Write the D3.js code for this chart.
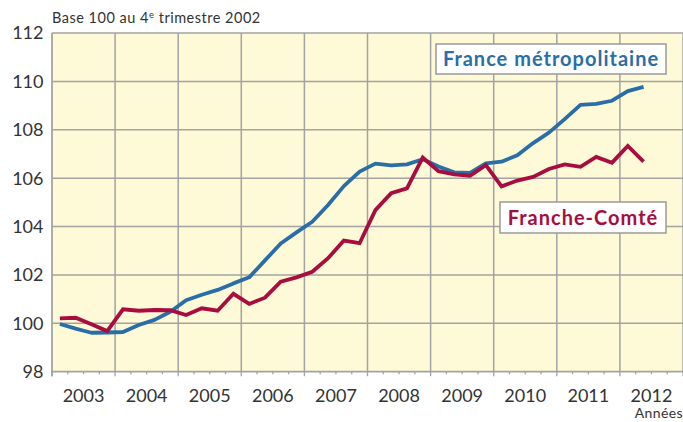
<!DOCTYPE html>
<html>
<head>
<meta charset="utf-8">
<script src="https://cdn.jsdelivr.net/npm/d3@7"></script>
<style>
  html, body { margin: 0; padding: 0; background: #fff; }
  svg { display: block; font-family: Lato, "Open Sans", sans-serif; }
</style>
</head>
<body>
<svg id="chart" width="683" height="422"></svg>
<script>
// --- DONNÉES (indice trimestriel, base 100 au 4e trimestre 2002) ---
const years = [2003, 2004, 2005, 2006, 2007, 2008, 2009, 2010, 2011, 2012];
const yTicks = [98, 100, 102, 104, 106, 108, 110, 112];

const franceMetro = [
  99.97, 99.78, 99.61, 99.62,
  99.64, 99.93, 100.14, 100.48,
  100.95, 101.18, 101.38, 101.65,
  101.9, 102.6, 103.3, 103.76,
  104.2, 104.89, 105.67, 106.27,
  106.6, 106.53, 106.57, 106.78,
  106.48, 106.24, 106.22, 106.61,
  106.68, 106.95, 107.45, 107.88,
  108.44, 109.03, 109.07, 109.2,
  109.6, 109.77
];
const francheComte = [
  100.2, 100.23, 99.96, 99.68,
  100.58, 100.52, 100.55, 100.54,
  100.34, 100.62, 100.52, 101.22,
  100.8, 101.06, 101.72, 101.9,
  102.13, 102.69, 103.42, 103.31,
  104.68, 105.38, 105.58, 106.85,
  106.29, 106.16, 106.1, 106.54,
  105.66, 105.9, 106.05, 106.38,
  106.57, 106.47, 106.88, 106.64,
  107.33, 106.68
];

const COL = {
  bg: "#fef9d6",
  grid: "#a3a3a3",
  blue: "#2a6ea8",
  red: "#a80d3f",
  text: "#333"
};

const svg = d3.select("#chart");
const mL = 52, mT = 33;
const plotR = mL + 631;   // fin 2012 (hors cadre)
const plotB = 371.7;

// --- ÉCHELLES ---
const x = d3.scaleLinear().domain([2003, 2013]).range([mL, plotR]);
const y = d3.scaleLinear().domain([98, 112]).range([plotB, mT]);
const qx = i => x(2003 + (i + 0.5) / 4);

// fond
svg.append("rect")
  .attr("x", mL).attr("y", mT)
  .attr("width", plotR - mL).attr("height", plotB - mT)
  .attr("fill", COL.bg);

// grille horizontale
svg.append("g").selectAll("line")
  .data(yTicks.slice(1))
  .join("line")
  .attr("x1", mL).attr("x2", plotR)
  .attr("y1", d => y(d)).attr("y2", d => y(d))
  .attr("stroke", COL.grid).attr("stroke-width", 1.5);

// grille verticale
svg.append("g").selectAll("line")
  .data(years.slice(1).concat([2013]))
  .join("line")
  .attr("x1", d => x(d)).attr("x2", d => x(d))
  .attr("y1", mT).attr("y2", plotB)
  .attr("stroke", COL.grid).attr("stroke-width", 1.5);

// axe des x : graduations trimestrielles
const quarters = d3.range(0, 41).map(i => 2003 + i / 4);
svg.append("g").selectAll("line")
  .data(quarters)
  .join("line")
  .attr("x1", d => x(d)).attr("x2", d => x(d))
  .attr("y1", plotB)
  .attr("y2", d => Number.isInteger(d) ? plotB + 4.5 : plotB + 2.5)
  .attr("stroke", COL.grid).attr("stroke-width", 1.3);

svg.append("line")
  .attr("x1", mL).attr("x2", plotR)
  .attr("y1", plotB).attr("y2", plotB)
  .attr("stroke", COL.grid).attr("stroke-width", 1.8);
svg.append("line")
  .attr("x1", mL).attr("x2", mL)
  .attr("y1", mT).attr("y2", plotB + 4.5)
  .attr("stroke", COL.grid).attr("stroke-width", 1.8);

// libellés des années
svg.append("g").selectAll("text")
  .data(years)
  .join("text")
  .attr("x", d => x(d + 0.5))
  .attr("y", 402)
  .attr("text-anchor", "middle")
  .style("font-size", "18px")
  .attr("fill", COL.text)
  .text(d => d);

// libellés de l'axe y
svg.append("g").selectAll("text")
  .data(yTicks)
  .join("text")
  .attr("x", 43.5)
  .attr("y", d => y(d))
  .attr("dy", "0.36em")
  .attr("text-anchor", "end")
  .style("font-size", "18px")
  .attr("fill", COL.text)
  .text(d => d);

// titre de l'axe
const hdr = svg.append("text")
  .attr("x", 52).attr("y", 23)
  .style("font-size", "14.5px")
  .style("letter-spacing", "0.5px")
  .attr("fill", COL.text);
hdr.append("tspan").text("Base 100 au 4");
hdr.append("tspan").attr("dy", -5).style("font-size", "9.5px").text("e");
hdr.append("tspan").attr("dy", 5).text(" trimestre 2002");

svg.append("text")
  .attr("x", 683).attr("y", 418)
  .attr("text-anchor", "end")
  .style("font-size", "14px")
  .style("letter-spacing", "0.4px")
  .attr("fill", COL.text)
  .text("Années");

// --- COURBES ---
const line = d3.line().x((d, i) => qx(i)).y(d => y(d));

svg.append("path")
  .datum(franceMetro)
  .attr("d", line)
  .attr("fill", "none")
  .attr("stroke", COL.blue).attr("stroke-width", 3.8)
  .attr("stroke-linejoin", "round");

svg.append("path")
  .datum(francheComte)
  .attr("d", line)
  .attr("fill", "none")
  .attr("stroke", COL.red).attr("stroke-width", 3.8)
  .attr("stroke-linejoin", "miter");

// --- ÉTIQUETTES DES SÉRIES ---
function labelBox(bx, by, bw, bh, txt, color) {
  svg.append("rect")
    .attr("x", bx).attr("y", by)
    .attr("width", bw).attr("height", bh)
    .attr("fill", "#fff")
    .attr("stroke", "#9a9a9a").attr("stroke-width", 1.5);
  svg.append("text")
    .attr("x", bx + bw / 2).attr("y", by + bh / 2)
    .attr("dy", "0.36em")
    .attr("text-anchor", "middle")
    .style("font-size", "20px").style("font-weight", "700")
    .style("letter-spacing", "1px")
    .attr("fill", color)
    .text(txt);
}
labelBox(436, 44, 230, 30, "France métropolitaine", COL.blue);
labelBox(500, 202, 166, 31, "Franche-Comté", COL.red);
</script>
</body>
</html>
